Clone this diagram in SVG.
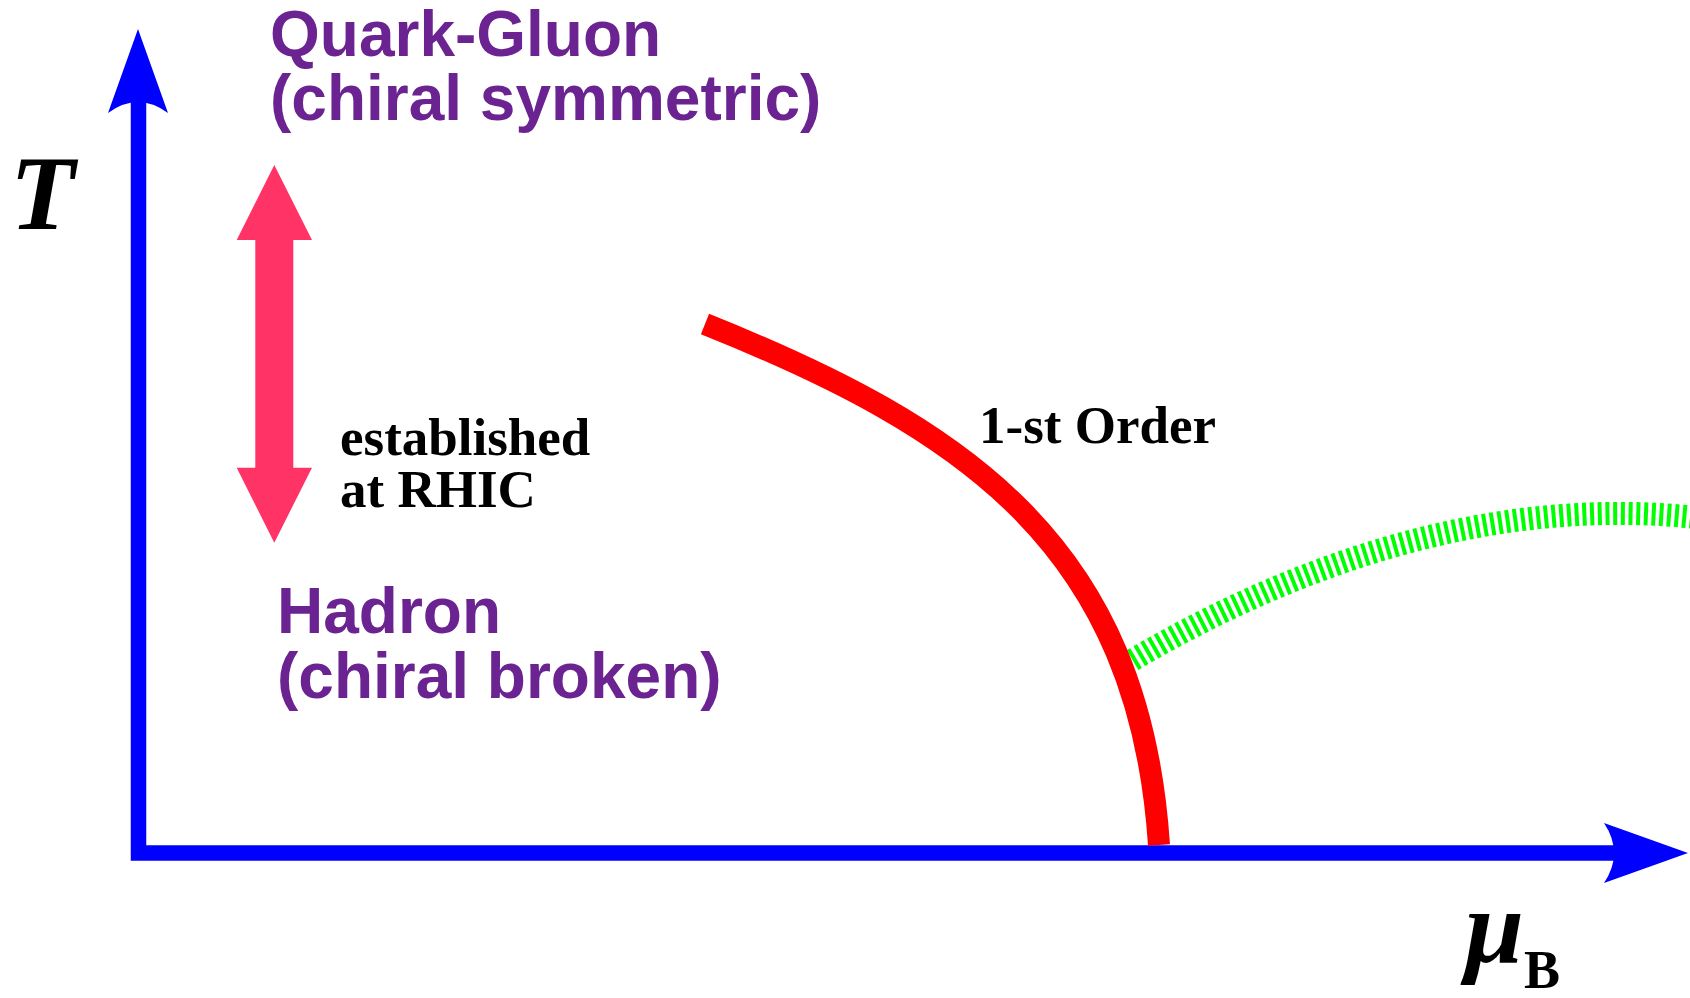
<svg xmlns="http://www.w3.org/2000/svg" width="1690" height="998" viewBox="0 0 1690 998">
<style>
.region{font-family:"Liberation Sans",Arial,sans-serif;font-weight:bold;font-size:64px;fill:#6A2390}
.note{font-family:"Liberation Serif","Times New Roman",serif;font-weight:bold;font-size:53px;fill:#000}
.axislabel{font-family:"Liberation Serif","Times New Roman",serif;font-weight:bold;font-style:italic;font-size:106px;fill:#000}
.axis{fill:none;stroke:#0000FF;stroke-width:15.5}
.head{fill:#0000FF}
</style>
<rect width="1690" height="998" fill="#fff"/>
<g id="connectors">
  <g id="axes">
    <polyline class="axis" points="138.5,100 138.5,853 1616,853" stroke-linejoin="miter"/>
    <path class="head" d="M138,29 L168,113 Q138,91 108,113 Z"/>
    <path class="head" d="M1688,853 L1604,883 Q1624,853 1604,823 Z"/>
  </g>
  <path id="crossover" d="M1126,664 C1300,560 1500,495 1700,518" fill="none" stroke="#00FF00" stroke-width="23" stroke-dasharray="4 3.7"/>
  <path id="first-order-line" d="M705,324 C964.8,428.2 1139.2,545 1159,845" fill="none" stroke="#FF0000" stroke-width="22"/>
  <path id="rhic-arrow" d="M274.3,165 L312,240 L293.3,240 L293.3,467.7 L312,467.7 L274.3,542.7 L236.7,467.7 L255.3,467.7 L255.3,240 L236.7,240 Z" fill="#FF3366"/>
</g>
<g id="label-T"><text class="axislabel" x="10" y="229">T</text></g>
<g id="label-muB"><text class="axislabel" x="1465" y="962">μ<tspan font-style="normal" font-size="54" dy="26">B</tspan></text></g>
<g id="node-qgp"><text class="region" x="270" y="56">Quark-Gluon</text><text class="region" x="270" y="120">(chiral symmetric)</text></g>
<g id="node-hadron"><text class="region" x="277" y="633">Hadron</text><text class="region" x="277" y="698">(chiral broken)</text></g>
<g id="label-rhic"><text class="note" x="340" y="455">established</text><text class="note" x="340" y="507">at RHIC</text></g>
<g id="label-first-order"><text class="note" x="979" y="443">1-st Order</text></g>
</svg>
